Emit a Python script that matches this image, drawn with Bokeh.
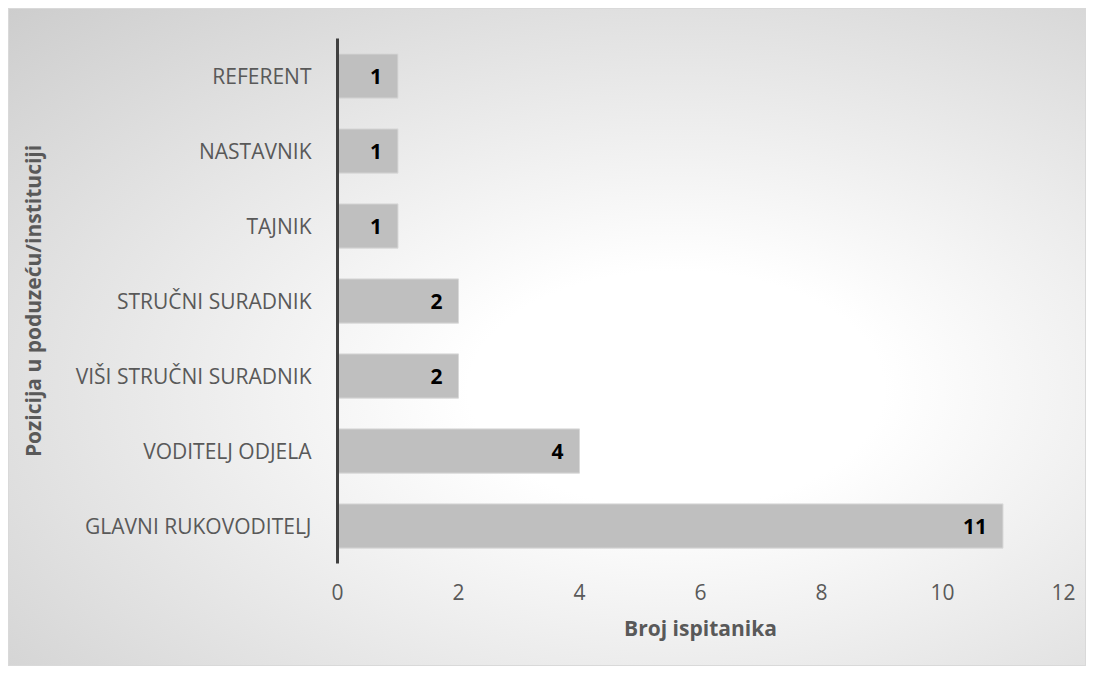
from bokeh.plotting import figure
from bokeh.models import ColumnDataSource, FixedTicker
from bokeh.core.properties import value
from bokeh.embed import file_html
from bokeh.resources import INLINE

categories = ["GLAVNI RUKOVODITELJ", "VODITELJ ODJELA", "VIŠI STRUČNI SURADNIK",
              "STRUČNI SURADNIK", "TAJNIK", "NASTAVNIK", "REFERENT"]
counts = [11, 4, 2, 2, 1, 1, 1]
x_ticks = [0, 2, 4, 6, 8, 10, 12]

src = ColumnDataSource(dict(cat=categories, n=counts, lbl=[str(c) for c in counts]))

FONT = "Open Sans"
FS = "21px"

p = figure(y_range=categories, x_range=(0, 12), width=1077, height=657,
           frame_width=726, frame_height=525,
           min_border_left=328, min_border_right=22, min_border_top=29, min_border_bottom=102,
           output_backend="svg", toolbar_location=None)

p.hbar(y="cat", right="n", left=0, height=0.59, source=src,
       fill_color="#bfbfbf", line_color="#d9d9d9", line_width=1)
p.text(x="n", y="cat", text="lbl", source=src, x_offset=-16,
       text_align="right", text_baseline="middle",
       text_font=value(FONT), text_font_style="bold", text_font_size=FS,
       text_color="#000000")

p.background_fill_alpha = 0
p.border_fill_alpha = 0
p.outline_line_color = None
p.styles = {"background": "radial-gradient(ellipse at 62% 58%, #ffffff 0%, #ffffff 22%, #cdcdcd 100%)",
            "border": "1px solid #d9d9d9", "margin": "8px"}
p.xgrid.grid_line_color = None
p.ygrid.grid_line_color = None

xa = p.xaxis[0]
xa.ticker = FixedTicker(ticks=x_ticks)
xa.axis_line_color = None
xa.major_tick_line_color = None
xa.minor_tick_line_color = None
xa.major_label_text_font = FONT
xa.major_label_text_font_size = FS
xa.major_label_text_color = "#595959"
xa.major_label_standoff = 14
xa.axis_label = "Broj ispitanika"
xa.axis_label_text_font = FONT
xa.axis_label_text_font_size = FS
xa.axis_label_text_font_style = "bold"
xa.axis_label_text_color = "#595959"
xa.axis_label_standoff = 11

ya = p.yaxis[0]
ya.axis_line_color = "#404040"
ya.axis_line_width = 3
ya.major_tick_line_color = None
ya.minor_tick_line_color = None
ya.major_label_text_font = FONT
ya.major_label_text_font_size = FS
ya.major_label_text_color = "#595959"
ya.major_label_standoff = 20
ya.axis_label = "Pozicija u poduzeću/instituciji"
ya.axis_label_text_font = FONT
ya.axis_label_text_font_size = FS
ya.axis_label_text_font_style = "bold"
ya.axis_label_text_color = "#595959"
ya.axis_label_standoff = 26

open("out.html", "w").write(file_html(p, INLINE))
